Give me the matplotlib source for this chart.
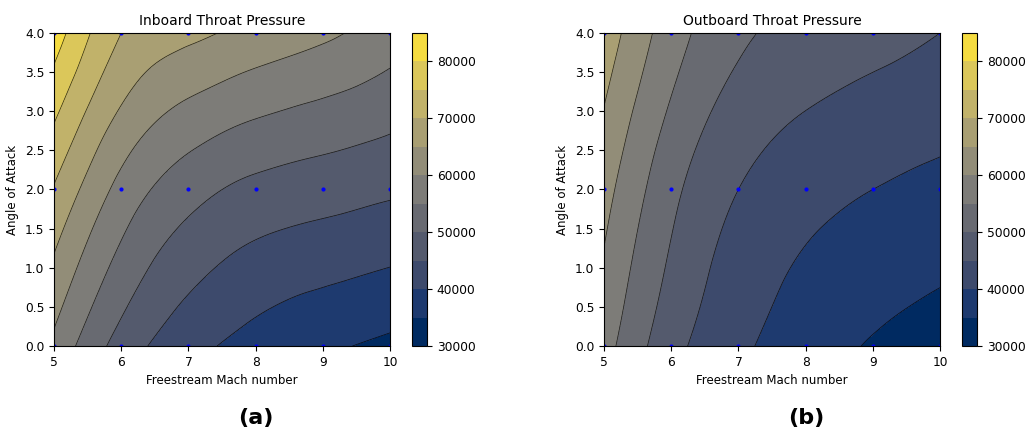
import numpy as np
import matplotlib
matplotlib.use('Agg')
import matplotlib.pyplot as plt
import matplotlib.tri as mtri

# sample grid
mach = [5, 6, 7, 8, 9, 10]
aoa = [0, 2, 4]

# throat pressure (Pa), one list per angle of attack
inboard_aoa0 = [58800, 48000, 41700, 38200, 35800, 34000]
inboard_aoa2 = [69600, 58400, 52000, 48700, 47200, 45800]
inboard_aoa4 = [82600, 70000, 66200, 63400, 61000, 57500]

outboard_aoa0 = [57000, 46800, 41000, 37400, 34600, 33000]
outboard_aoa2 = [61800, 51400, 45000, 41800, 40000, 38700]
outboard_aoa4 = [68000, 57400, 51000, 48400, 46800, 45000]

levels = np.arange(30000, 85001, 5000)
cbar_ticks = [30000, 40000, 50000, 60000, 70000, 80000]


def draw(ax, cax, rows, title):
    M, A = np.meshgrid(mach, aoa)
    P = np.array(rows, dtype=float)
    tri = mtri.Triangulation(M.ravel().astype(float), A.ravel().astype(float))
    interp = mtri.CubicTriInterpolator(tri, P.ravel(), kind='min_E')
    xi, yi = np.meshgrid(np.linspace(5, 10, 300), np.linspace(0, 4, 300))
    zi = interp(xi, yi)
    zi = np.clip(zi, 30001, 84999)
    cs = ax.contourf(xi, yi, zi, levels=levels, cmap='cividis')
    ax.contour(xi, yi, zi, levels=levels, colors='k', linewidths=0.5, alpha=0.8)
    ax.plot(M.ravel(), A.ravel(), 'b.', markersize=4)
    ax.set_xlim(5, 10)
    ax.set_ylim(0, 4)
    ax.set_yticks(np.arange(0, 4.01, 0.5))
    ax.set_title(title, fontsize=10)
    ax.set_xlabel('Freestream Mach number', fontsize=8.5)
    ax.set_ylabel('Angle of Attack', fontsize=8.5)
    ax.tick_params(labelsize=8.8)
    cb = plt.colorbar(cs, cax=cax, ticks=cbar_ticks)
    cb.ax.tick_params(labelsize=8.8)


fig = plt.figure(figsize=(10.26, 4.36), dpi=100)
W, H = 1026.0, 436.0
ax1 = fig.add_axes([54 / W, 90 / H, 336 / W, 313 / H])
cax1 = fig.add_axes([412 / W, 90 / H, 15 / W, 313 / H])
ax2 = fig.add_axes([604 / W, 90 / H, 336 / W, 313 / H])
cax2 = fig.add_axes([962 / W, 90 / H, 15 / W, 313 / H])

draw(ax1, cax1, [inboard_aoa0, inboard_aoa2, inboard_aoa4], 'Inboard Throat Pressure')
draw(ax2, cax2, [outboard_aoa0, outboard_aoa2, outboard_aoa4], 'Outboard Throat Pressure')

fig.text(256 / W, 18 / H, '(a)', ha='center', va='center', fontsize=16, fontweight='bold')
fig.text(806 / W, 18 / H, '(b)', ha='center', va='center', fontsize=16, fontweight='bold')

fig.savefig('out.png', dpi=100)
